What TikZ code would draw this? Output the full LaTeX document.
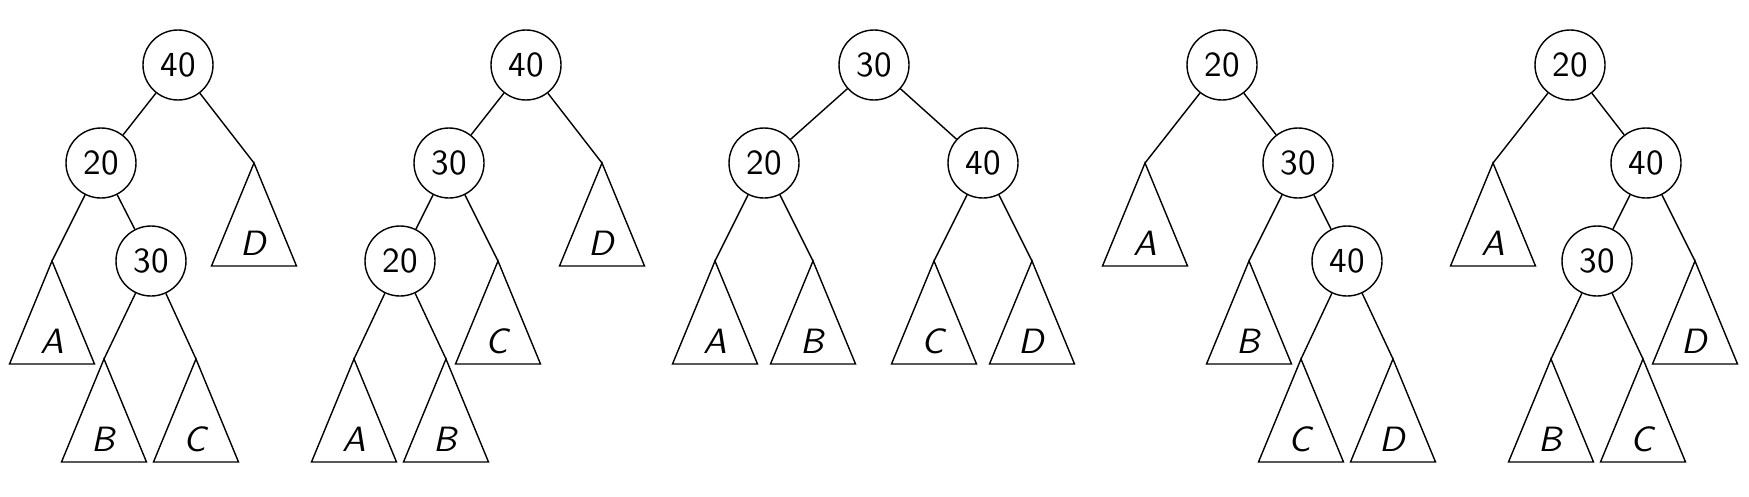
\documentclass[tikz,border=0pt]{standalone}
\usepackage{tikz}
\renewcommand{\familydefault}{\sfdefault}
\newcommand{\subtree}[3]{%
	\coordinate (#1) at #2;
	\draw (#1) -- ++(-0.425,-1.03) -- ++(0.85,0) -- cycle;
	\node (#1l) at ([yshift=-0.8cm]#1) {\textit{#3}};
}
\tikzset{key/.style={circle, draw, minimum size=0.7cm, inner sep=0pt}}

\begin{document}
\begin{tikzpicture}[auto]
	\useasboundingbox (0,0) rectangle (17.49,-4.96);
	\node[key] (40a) at (1.78, -0.65) {40};
	\node[key] (20a) at (1.01, -1.63) {20};
	\node[key] (30a) at (1.51, -2.61) {30};
	\subtree{Aa}{(0.52, -2.61)}{A}
	\subtree{Ba}{(1.04, -3.59)}{B}
	\subtree{Ca}{(1.96, -3.59)}{C}
	\subtree{Da}{(2.54, -1.63)}{D}
	\draw (40a) to (20a);
	\draw (40a) to (Da);
	\draw (20a) to (Aa);
	\draw (20a) to (30a);
	\draw (30a) to (Ba);
	\draw (30a) to (Ca);

	\node[key] (40b) at (5.26, -0.65) {40};
	\node[key] (30b) at (4.49, -1.63) {30};
	\node[key] (20b) at (4.00, -2.61) {20};
	\subtree{Ab}{(3.54, -3.59)}{A}
	\subtree{Bb}{(4.46, -3.59)}{B}
	\subtree{Cb}{(4.98, -2.61)}{C}
	\subtree{Db}{(6.02, -1.63)}{D}
	\draw (40b) to (30b);
	\draw (40b) to (Db);
	\draw (30b) to (20b);
	\draw (30b) to (Cb);
	\draw (20b) to (Ab);
	\draw (20b) to (Bb);

	\node[key] (30c) at (8.74, -0.65) {30};
	\node[key] (20c) at (7.64, -1.63) {20};
	\node[key] (40c) at (9.83, -1.63) {40};
	\subtree{Ac}{(7.15, -2.61)}{A}
	\subtree{Bc}{(8.13, -2.61)}{B}
	\subtree{Cc}{(9.34, -2.61)}{C}
	\subtree{Dc}{(10.32, -2.61)}{D}
	\draw (30c) to (20c);
	\draw (30c) to (40c);
	\draw (20c) to (Ac);
	\draw (20c) to (Bc);
	\draw (40c) to (Cc);
	\draw (40c) to (Dc);

	\node[key] (20d) at (12.22, -0.65) {20};
	\node[key] (30d) at (12.98, -1.63) {30};
	\node[key] (40d) at (13.47, -2.61) {40};
	\subtree{Ad}{(11.45, -1.63)}{A}
	\subtree{Bd}{(12.49, -2.61)}{B}
	\subtree{Cd}{(13.01, -3.59)}{C}
	\subtree{Dd}{(13.93, -3.59)}{D}
	\draw (20d) to (Ad);
	\draw (20d) to (30d);
	\draw (30d) to (Bd);
	\draw (30d) to (40d);
	\draw (40d) to (Cd);
	\draw (40d) to (Dd);

	\node[key] (20e) at (15.70, -0.65) {20};
	\node[key] (40e) at (16.46, -1.63) {40};
	\node[key] (30e) at (15.97, -2.61) {30};
	\subtree{Ae}{(14.93, -1.63)}{A}
	\subtree{Be}{(15.51, -3.59)}{B}
	\subtree{Ce}{(16.43, -3.59)}{C}
	\subtree{De}{(16.95, -2.61)}{D}
	\draw (20e) to (Ae);
	\draw (20e) to (40e);
	\draw (40e) to (30e);
	\draw (40e) to (De);
	\draw (30e) to (Be);
	\draw (30e) to (Ce);
\end{tikzpicture}
\end{document}
